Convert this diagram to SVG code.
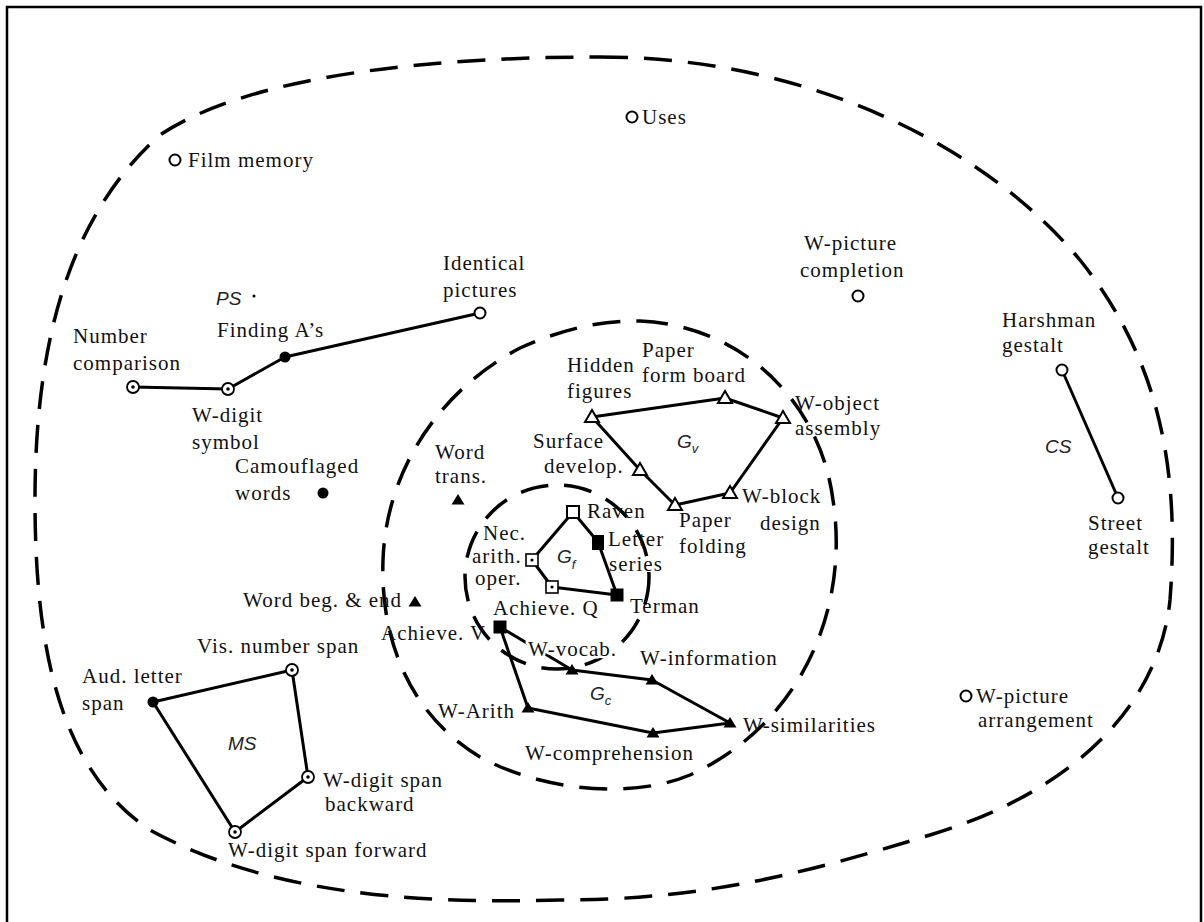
<svg xmlns="http://www.w3.org/2000/svg" xmlns:xlink="http://www.w3.org/1999/xlink" width="1204" height="922" viewBox="0 0 1204 922">
<style>
.t{font-family:"Liberation Serif","Times New Roman",serif;font-size:21px;letter-spacing:1px;fill:#111}
.i{font-family:"Liberation Sans",Arial,sans-serif;font-style:italic;font-size:19px;fill:#222}
.sub{font-size:13px}
.dash{fill:none;stroke:#000;stroke-width:3.5;stroke-dasharray:28 16}
.edge{fill:none;stroke:#000;stroke-width:3;stroke-linejoin:round}
.halo{stroke:#fff;stroke-width:5;paint-order:stroke;stroke-linejoin:round}
</style>
<defs>
<path id="triO" d="M0,-7 L7,5 L-7,5 Z" fill="#fff" stroke="#000" stroke-width="2"/>
<path id="triF" d="M0,-6 L6.5,4.5 L-6.5,4.5 Z" fill="#000"/>
<circle id="cO" r="5.5" fill="#fff" stroke="#000" stroke-width="2"/>
<g id="cD"><circle r="6" fill="#fff" stroke="#000" stroke-width="1.8"/><circle r="1.8" fill="#000"/></g>
<circle id="cF" r="5.5" fill="#000"/>
<rect id="sO" x="-6" y="-6" width="12" height="12" fill="#fff" stroke="#000" stroke-width="2"/>
<rect id="sF" x="-6.5" y="-6.5" width="13" height="13" fill="#000"/>
<g id="sD"><rect x="-6" y="-6" width="12" height="12" fill="#fff" stroke="#000" stroke-width="1.6"/><circle r="1.6" fill="#000"/></g>
</defs>
<rect x="0" y="0" width="1204" height="922" fill="#fff"/>
<rect x="7" y="7" width="1194" height="930" fill="none" stroke="#000" stroke-width="2.5"/>

<g id="boundaries">
<path class="dash" d="M600 57 C800 57 980 140 1080 260 C1160 360 1180 470 1170 600 C1160 700 1080 790 930 835 C800 875 700 900 560 900 C400 905 260 890 150 830 C60 770 35 650 35 500 C35 340 70 215 160 135 C250 75 430 57 600 57 Z"/>
<path class="dash" d="M640 321 C740 325 820 400 833 500 C850 610 800 725 690 775 C630 800 540 790 480 757 C410 715 380 640 383 560 C386 470 440 390 520 348 C560 330 600 320 640 321 Z"/>
<circle class="dash" cx="557" cy="577" r="92"/>
</g>

<g id="connectors">
<polyline class="edge" points="133,387 228,389 285,357 480,313" stroke-width="2.5"/>
<polygon class="edge" points="592,417 725,398 783,418 730,493 675,505 640,470"/>
<polygon class="edge" points="573,512 532,560 552,587 617,595 598,542"/>
<polygon class="edge" points="500,627 528,708 653,733 730,723 652,680 572,670"/>
<polygon class="edge" points="153,702 292,670 308,777 235,832"/>
<line class="edge" x1="1062" y1="370" x2="1118" y2="498" stroke-width="2.5"/>
</g>

<g id="n-uses"><use xlink:href="#cO" x="632" y="117"/><text class="t" x="642" y="124">Uses</text></g>
<g id="n-film"><use xlink:href="#cO" x="175" y="160"/><text class="t" x="188" y="167">Film memory</text></g>
<g id="n-wpc"><use xlink:href="#cO" x="858" y="296"/><text class="t" x="804" y="250">W-picture</text><text class="t" x="800" y="277">completion</text></g>
<g id="n-ps"><text class="i" x="216" y="305">PS</text><circle cx="254" cy="296" r="1.5" fill="#000"/></g>
<g id="n-ident"><use xlink:href="#cO" x="480" y="313"/><text class="t" x="443" y="270">Identical</text><text class="t" x="443" y="297">pictures</text></g>
<g id="n-finding"><use xlink:href="#cF" x="285" y="357"/><text class="t" x="217" y="337">Finding A’s</text></g>
<g id="n-numcomp"><use xlink:href="#cD" x="133" y="387"/><text class="t" x="73" y="343">Number</text><text class="t" x="73" y="370">comparison</text></g>
<g id="n-wdsym"><use xlink:href="#cD" x="228" y="389"/><text class="t" x="192" y="422">W-digit</text><text class="t" x="192" y="449">symbol</text></g>
<g id="n-camo"><use xlink:href="#cF" x="323" y="493"/><text class="t" x="235" y="473">Camouflaged</text><text class="t" x="235" y="500">words</text></g>
<g id="n-wordtrans"><use xlink:href="#triF" x="458" y="500"/><text class="t" x="435" y="459">Word</text><text class="t" x="435" y="483">trans.</text></g>
<g id="n-wordbeg"><use xlink:href="#triF" x="415" y="602"/><text class="t" x="243" y="607">Word beg. &amp; end</text></g>

<g id="n-hidden"><use xlink:href="#triO" x="592" y="417"/><text class="t" x="567" y="372">Hidden</text><text class="t" x="567" y="398">figures</text></g>
<g id="n-pfb"><use xlink:href="#triO" x="725" y="398"/><text class="t" x="642" y="357">Paper</text><text class="t" x="642" y="382">form board</text></g>
<g id="n-woa"><use xlink:href="#triO" x="783" y="418"/><text class="t" x="795" y="410">W-object</text><text class="t" x="795" y="435">assembly</text></g>
<g id="n-wbd"><use xlink:href="#triO" x="730" y="493"/><text class="t" x="742" y="503">W-block</text><text class="t" x="760" y="530">design</text></g>
<g id="n-pf"><use xlink:href="#triO" x="675" y="505"/><text class="t" x="679" y="527">Paper</text><text class="t" x="679" y="553">folding</text></g>
<g id="n-sd"><use xlink:href="#triO" x="640" y="470"/><text class="t" x="533" y="448">Surface</text><text class="t" x="544" y="473">develop.</text></g>
<g id="l-gv"><text class="i" x="677" y="448">G<tspan class="sub" dy="5">v</tspan></text></g>

<g id="n-raven"><use xlink:href="#sO" x="573" y="512"/><text class="t" x="587" y="518">Raven</text></g>
<g id="n-letter"><rect x="592" y="535" width="12" height="15" fill="#000"/><text class="t" x="608" y="546">Letter</text><text class="t" x="609" y="571">series</text></g>
<g id="n-terman"><use xlink:href="#sF" x="617" y="595"/><text class="t" x="630" y="613">Terman</text></g>
<g id="n-nec"><use xlink:href="#sD" x="532" y="560"/><text class="t" x="483" y="540">Nec.</text><text class="t" x="472" y="563">arith.</text><text class="t" x="475" y="585">oper.</text></g>
<g id="n-achq"><use xlink:href="#sD" x="552" y="587"/><text class="t" x="493" y="615">Achieve. Q</text></g>
<g id="l-gf"><text class="i" x="557" y="563">G<tspan class="sub" dy="6">f</tspan></text></g>

<g id="n-achv"><use xlink:href="#sF" x="500" y="627"/><text class="t" x="381" y="640">Achieve. V</text></g>
<g id="n-wvocab"><use xlink:href="#triF" x="572" y="670"/><text class="t halo" x="528" y="656">W-vocab.</text></g>
<g id="n-winfo"><use xlink:href="#triF" x="652" y="680"/><text class="t" x="640" y="665">W-information</text></g>
<g id="n-wsim"><use xlink:href="#triF" x="730" y="723"/><text class="t" x="743" y="732">W-similarities</text></g>
<g id="n-wcomp"><use xlink:href="#triF" x="653" y="733"/><text class="t" x="525" y="760">W-comprehension</text></g>
<g id="n-warith"><use xlink:href="#triF" x="528" y="708"/><text class="t" x="438" y="718">W-Arith</text></g>
<g id="l-gc"><text class="i" x="590" y="700">G<tspan class="sub" dy="5">c</tspan></text></g>

<g id="n-aud"><use xlink:href="#cF" x="153" y="702"/><text class="t" x="82" y="683">Aud. letter</text><text class="t" x="82" y="710">span</text></g>
<g id="n-vis"><use xlink:href="#cD" x="292" y="670"/><text class="t" x="197" y="653">Vis. number span</text></g>
<g id="n-wdsb"><use xlink:href="#cD" x="308" y="777"/><text class="t" x="323" y="787">W-digit span</text><text class="t" x="325" y="811">backward</text></g>
<g id="n-wdsf"><use xlink:href="#cD" x="235" y="832"/><text class="t" x="228" y="857">W-digit span forward</text></g>
<g id="l-ms"><text class="i" x="228" y="750">MS</text></g>

<g id="n-harsh"><use xlink:href="#cO" x="1062" y="370"/><text class="t" x="1002" y="327">Harshman</text><text class="t" x="1002" y="352">gestalt</text></g>
<g id="n-street"><use xlink:href="#cO" x="1118" y="498"/><text class="t" x="1088" y="530">Street</text><text class="t" x="1088" y="554">gestalt</text></g>
<g id="l-cs"><text class="i" x="1045" y="453">CS</text></g>
<g id="n-wpa"><use xlink:href="#cO" x="966" y="696"/><text class="t" x="976" y="703">W-picture</text><text class="t" x="978" y="727">arrangement</text></g>
</svg>
